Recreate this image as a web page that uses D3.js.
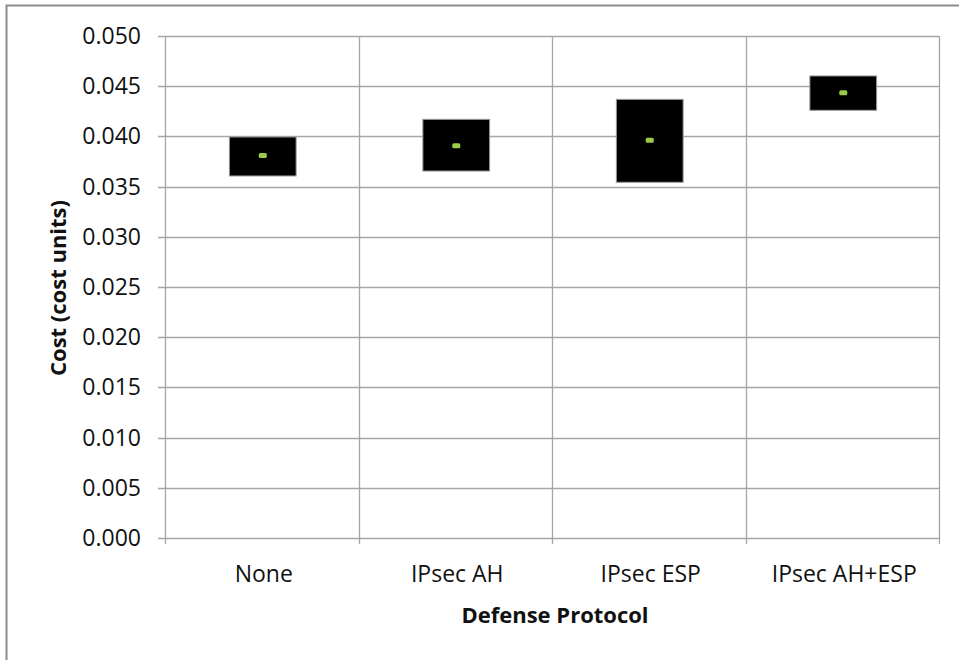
<!DOCTYPE html>
<html><head><meta charset="utf-8">
<script src="https://cdn.jsdelivr.net/npm/d3@7"></script>
<style>body{margin:0;background:#fff}svg{display:block}</style>
</head><body><svg id="c" width="959" height="660"></svg>
<script>
const categories = ["None", "IPsec AH", "IPsec ESP", "IPsec AH+ESP"];
const highValues = [0.03994, 0.04170, 0.04369, 0.04602];
const lowValues  = [0.03606, 0.03655, 0.03543, 0.04260];
const midValues  = [0.03810, 0.03907, 0.03961, 0.04435];
const yTicks = [0, 0.005, 0.010, 0.015, 0.020, 0.025, 0.030, 0.035, 0.040, 0.045, 0.050];

const svg = d3.select("#c");
const font = "'Open Sans', sans-serif";
// outer frame
svg.append("rect").attr("x", 6.5).attr("y", 5.5).attr("width", 1000).attr("height", 1000)
  .attr("fill", "none").attr("stroke", "#8c8c8c").attr("stroke-width", 2);

const L = 165, R = 939, T = 36, B = 538;
const x = d3.scaleBand().domain(categories).range([L, R]).paddingInner(0).paddingOuter(0);
const y = d3.scaleLinear().domain([0, 0.05]).range([B, T]);
const grid = "#a6a6a6";

// horizontal gridlines
svg.append("g").selectAll("line").data(yTicks).join("line")
  .attr("x1", L - 7).attr("x2", R).attr("y1", d => Math.round(y(d)) + 0.5).attr("y2", d => Math.round(y(d)) + 0.5)
  .attr("stroke", grid).attr("stroke-width", 1.3);
// vertical gridlines / category boundaries
const bounds = categories.map(c => x(c)).concat([R]);
svg.append("g").selectAll("line").data(bounds).join("line")
  .attr("x1", d => Math.round(d) + 0.5).attr("x2", d => Math.round(d) + 0.5)
  .attr("y1", T).attr("y2", B + 6)
  .attr("stroke", grid).attr("stroke-width", 1.3);

// y tick labels
svg.append("g").selectAll("text").data(yTicks).join("text")
  .attr("x", 141).attr("y", d => y(d)).attr("dy", "0.35em")
  .attr("text-anchor", "end").attr("font-family", font).attr("font-size", 23).attr("fill", "#111")
  .text(d => d3.format(".3f")(d));

// x labels
svg.append("g").selectAll("text").data(categories).join("text")
  .attr("x", d => x(d) + x.bandwidth() / 2 + 2).attr("y", 582)
  .attr("text-anchor", "middle").attr("font-family", font).attr("font-size", 23).attr("fill", "#111")
  .text(d => d);

// boxes
const bw = x.bandwidth() * 0.345;
const data = categories.map((c, i) => ({c, hi: highValues[i], lo: lowValues[i], mid: midValues[i]}));
svg.append("g").selectAll("rect").data(data).join("rect")
  .attr("x", d => x(d.c) + x.bandwidth() / 2 + 1 - bw / 2).attr("width", bw)
  .attr("y", d => y(d.hi)).attr("height", d => y(d.lo) - y(d.hi))
  .attr("fill", "#000").attr("stroke", "#9a9a9a").attr("stroke-width", 1);
svg.append("g").selectAll("rect").data(data).join("rect")
  .attr("x", d => x(d.c) + x.bandwidth() / 2 + 1 - 4).attr("width", 8)
  .attr("y", d => y(d.mid) - 2.5).attr("height", 5).attr("rx", 1.5)
  .attr("fill", "#9acd45");

// axis titles
svg.append("text").attr("x", 555).attr("y", 615).attr("dy", "0.35em")
  .attr("text-anchor", "middle").attr("font-family", font).attr("font-weight", "bold")
  .attr("font-size", 22).attr("fill", "#111").text("Defense Protocol");
svg.append("text").attr("transform", "translate(58,288) rotate(-90)").attr("dy", "0.35em")
  .attr("text-anchor", "middle").attr("font-family", font).attr("font-weight", "bold")
  .attr("font-size", 22).attr("fill", "#111").text("Cost (cost units)");
</script></body></html>
